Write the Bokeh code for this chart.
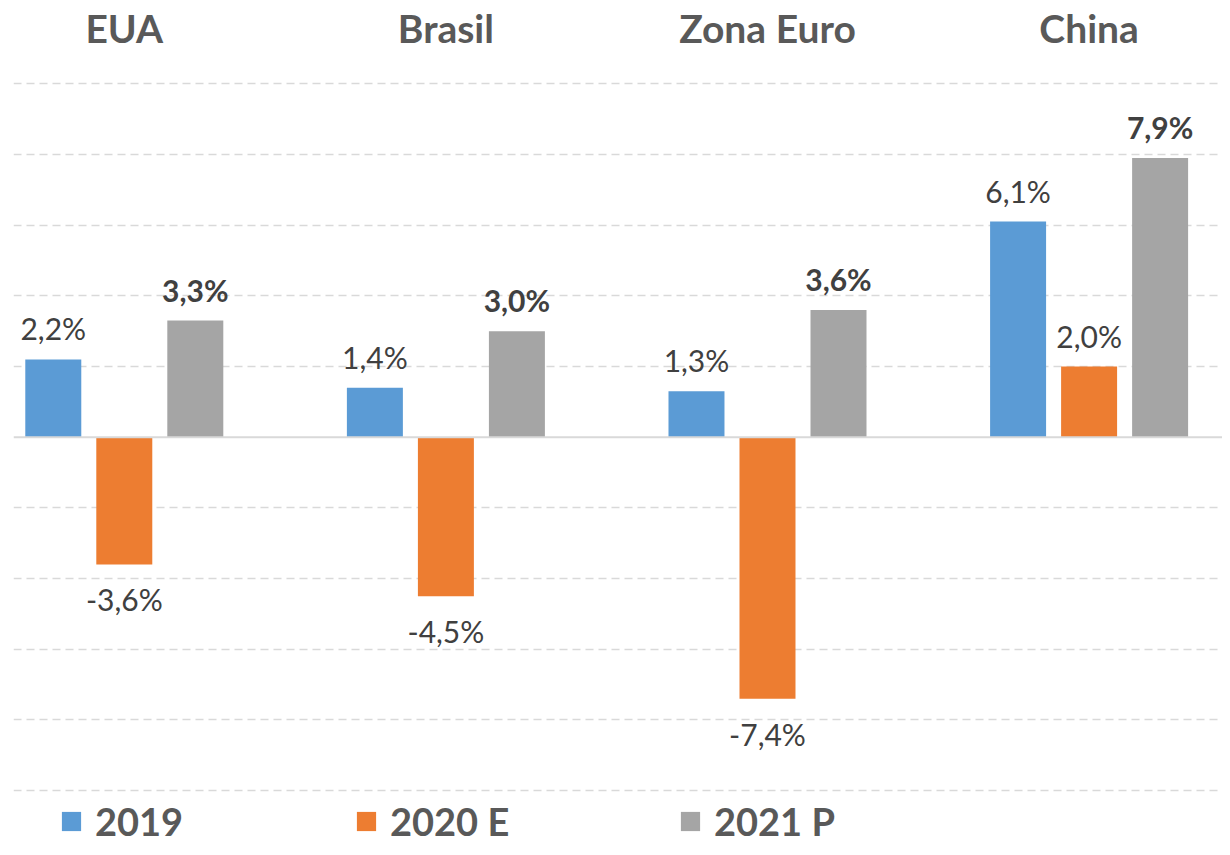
from bokeh.plotting import figure
from bokeh.models import ColumnDataSource, Range1d, Grid, FixedTicker, Span, Legend, LegendItem
from bokeh.transform import dodge
from bokeh.core.properties import value
from bokeh.embed import file_html
from bokeh.resources import INLINE

# ---- data ----
regions = ["EUA", "Brasil", "Zona Euro", "China"]
series = ["2019", "2020 E", "2021 P"]
v2019 = [2.2, 1.4, 1.3, 6.1]
v2020 = [-3.6, -4.5, -7.4, 2.0]
v2021 = [3.3, 3.0, 3.6, 7.9]
grid_ticks = [-10, -8, -6, -4, -2, 2, 4, 6, 8, 10]

# ---- style ----
colors = ["#5B9BD5", "#ED7D31", "#A5A5A5"]
FONT = "Lato"
W, H = 1222, 847
PITCH = 0.2208
BAR_W = 0.1741
TITLE_Y = 11.576

p = figure(width=W, height=H, output_backend="svg", toolbar_location=None,
           x_range=Range1d(-0.3445, 3.4148), y_range=Range1d(-11.607, 12.354),
           x_axis_type=None, y_axis_type=None,
           min_border_left=13, min_border_right=0, min_border_top=0, min_border_bottom=0)
p.outline_line_color = None
p.background_fill_color = "white"
p.border_fill_color = "white"

p.add_layout(Grid(dimension=1, ticker=FixedTicker(ticks=grid_ticks),
                  grid_line_color="#d9d9d9", grid_line_width=1.5, grid_line_dash="8 5"))
p.add_layout(Span(location=0, dimension="width", line_color="#d9d9d9", line_width=2))

x = list(range(len(regions)))
all_vals = [v2019, v2020, v2021]
offsets = [-PITCH, 0.0, PITCH]
bolds = ["normal", "normal", "bold"]
renderers = []
for vs, col, off, fs in zip(all_vals, colors, offsets, bolds):
    labels = [f"{v:.1f}%".replace(".", ",") for v in vs]
    yoff = [-31 if v >= 0 else 35 for v in vs]
    src = ColumnDataSource(dict(x=x, top=vs, label=labels, yoff=yoff))
    r = p.vbar(x=dodge("x", off), top="top", bottom=0, width=BAR_W, source=src,
               fill_color=col, line_color=None)
    renderers.append(r)
    p.text(x=dodge("x", off), y="top", text="label", y_offset="yoff", source=src,
           text_align="center", text_baseline="middle", text_font=value(FONT),
           text_font_size="30px", text_color="#404040", text_font_style=fs)

tsrc = ColumnDataSource(dict(x=x, y=[TITLE_Y] * len(regions), t=regions))
p.text(x="x", y="y", text="t", source=tsrc, text_align="center", text_baseline="middle",
       text_font=value(FONT), text_font_size="39px", text_font_style="bold",
       text_color="#595959")

legend_x = [46, 341, 665]
for name, r, lx in zip(series, renderers, legend_x):
    leg = Legend(items=[LegendItem(label=name, renderers=[r])], location=(lx, 3),
                 orientation="horizontal", padding=0, margin=0, spacing=0,
                 border_line_color=None, background_fill_alpha=0,
                 glyph_width=24, glyph_height=24, label_standoff=12,
                 label_text_font=FONT, label_text_font_size="38px",
                 label_text_font_style="bold", label_text_color="#595959")
    p.add_layout(leg)

open("out.html", "w").write(file_html(p, INLINE))
